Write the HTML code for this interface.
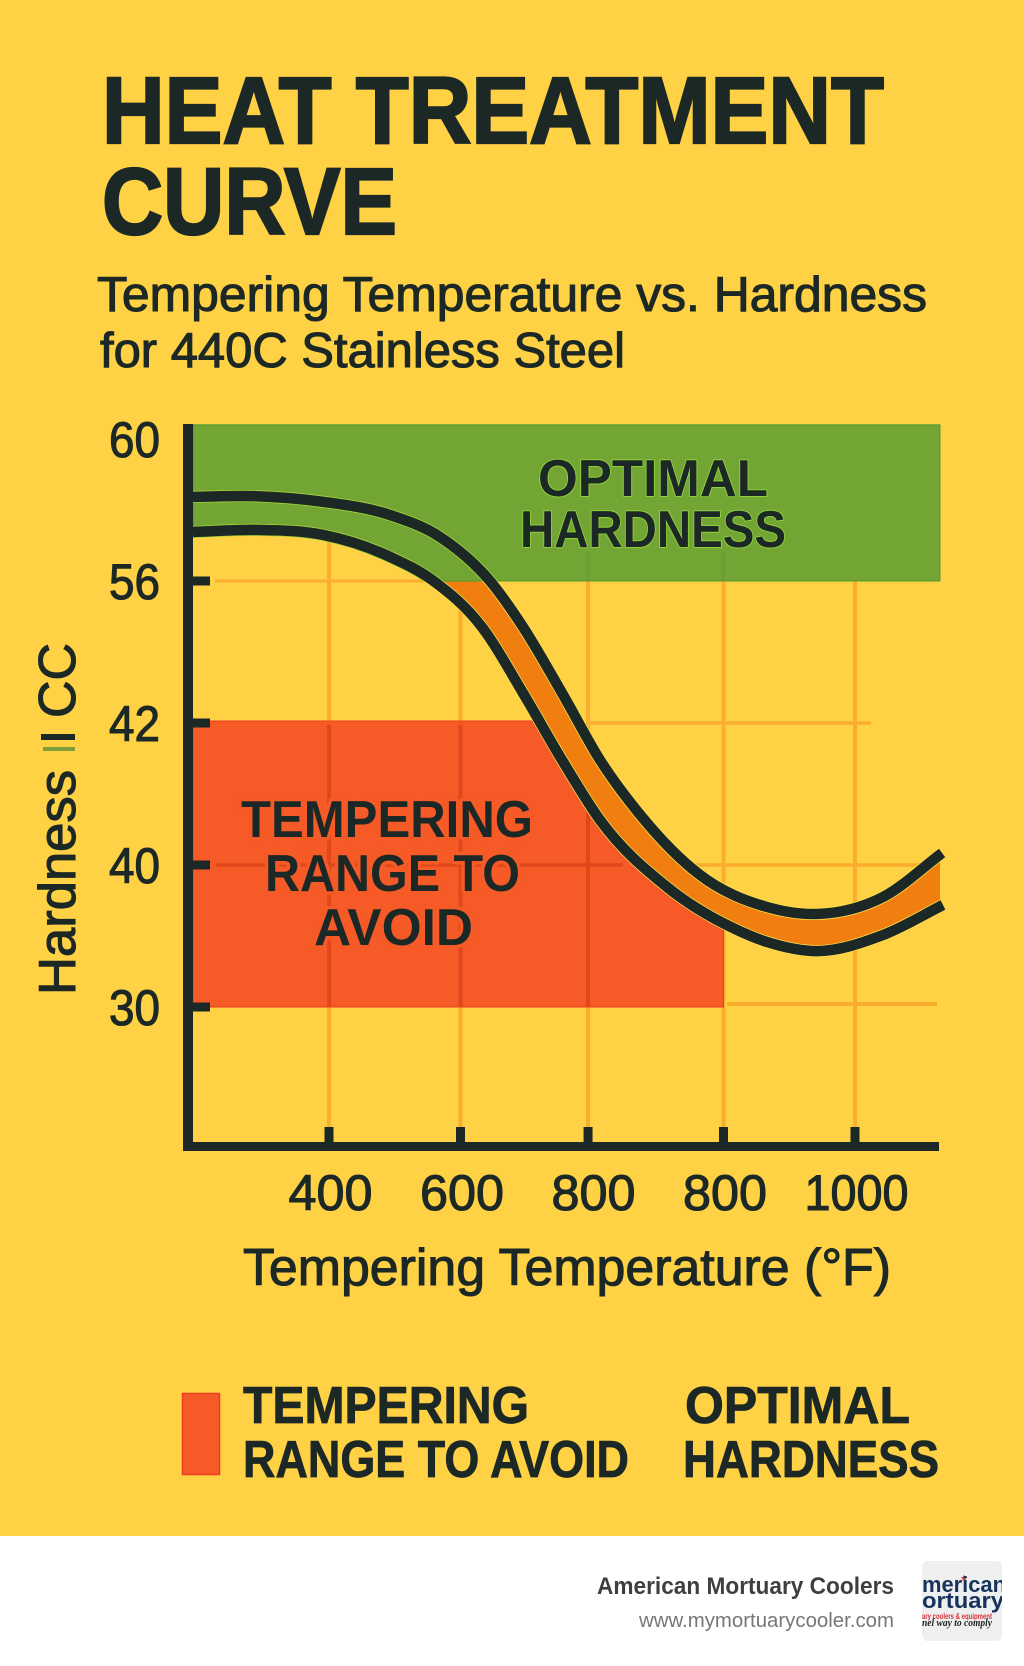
<!DOCTYPE html>
<html lang="en">
<head>
<meta charset="utf-8">
<title>Heat Treatment Curve</title>
<style>
html,body{margin:0;padding:0;background:#ffd145;}
svg{display:block;font-family:"Liberation Sans",sans-serif;}
.ink{fill:#1c2825;}
.title{font-weight:700;font-size:95px;stroke:#1c2825;stroke-width:2.2px;}
.sub{font-size:49px;stroke:#1c2825;stroke-width:1.1px;}
.tick{font-size:50px;stroke:#1c2825;stroke-width:1.1px;}
.axis-title{font-size:52px;stroke:#1c2825;stroke-width:1.1px;}
.band-label{font-weight:700;font-size:52px;paint-order:stroke;stroke-linejoin:round;}
.legend-text{font-weight:700;font-size:52px;stroke:#1c2825;stroke-width:.8px;}
</style>
</head>
<body>
<svg id="chart" xmlns="http://www.w3.org/2000/svg" width="1024" height="1666" viewBox="0 0 1024 1666">
  <rect x="0" y="0" width="1024" height="1536" fill="#ffd145"/>
  <rect x="0" y="1536" width="1024" height="130" fill="#ffffff"/>

  <text class="ink title" x="102" y="143" textLength="782" lengthAdjust="spacingAndGlyphs">HEAT TREATMENT</text>
  <text class="ink title" x="102" y="234" textLength="295" lengthAdjust="spacingAndGlyphs">CURVE</text>
  <text class="ink sub" x="97" y="311" textLength="830" lengthAdjust="spacingAndGlyphs">Tempering Temperature vs. Hardness</text>
  <text class="ink sub" x="100" y="367" textLength="525" lengthAdjust="spacingAndGlyphs">for 440C Stainless Steel</text>

  <defs>
    <clipPath id="above-lower"><path id="above-lower-path" d=""/></clipPath>
    <clipPath id="below-lower"><path id="below-lower-path" d=""/></clipPath>
    <clipPath id="band-clip"><rect x="193" y="400" width="747" height="700"/></clipPath>
    <clipPath id="logo-clip"><rect x="922" y="1561" width="80" height="80" rx="6"/></clipPath>
  </defs>

  <g id="grid-layer"></g>
  <g id="zone-layer"></g>
  <g id="curve-layer"></g>
  <g id="axis-layer"></g>

  <text class="ink band-label" x="538" y="496" textLength="230" lengthAdjust="spacingAndGlyphs" stroke="#8fcf3a" stroke-width="2">OPTIMAL</text>
  <text class="ink band-label" x="520" y="547" textLength="266" lengthAdjust="spacingAndGlyphs" stroke="#8fcf3a" stroke-width="2">HARDNESS</text>
  <text class="ink band-label" x="241" y="837" textLength="292" lengthAdjust="spacingAndGlyphs" stroke="#f55a27" stroke-width="7">TEMPERING</text>
  <text class="ink band-label" x="265" y="891" textLength="255" lengthAdjust="spacingAndGlyphs" stroke="#f55a27" stroke-width="7">RANGE TO</text>
  <text class="ink band-label" x="314" y="945" textLength="159" lengthAdjust="spacingAndGlyphs" stroke="#f55a27" stroke-width="7">AVOID</text>

  <text class="ink axis-title" transform="translate(75,995) rotate(-90)" x="0" y="0" textLength="225" lengthAdjust="spacingAndGlyphs">Hardness</text>
  <rect x="43" y="747" width="32" height="4" fill="#7f9f3a"/>
  <rect x="41" y="734" width="34" height="6" fill="#1c2825"/>
  <text class="ink axis-title" transform="translate(75,718) rotate(-90)" x="0" y="0" textLength="75" lengthAdjust="spacingAndGlyphs">CC</text>

  <text class="ink axis-title" x="243" y="1285" textLength="648" lengthAdjust="spacingAndGlyphs">Tempering Temperature (°F)</text>

  <rect x="182.5" y="1393.5" width="37" height="81" fill="#f55a27" stroke="#ef3d22" stroke-width="1.5"/>
  <text class="ink legend-text" x="243" y="1423" textLength="286" lengthAdjust="spacingAndGlyphs">TEMPERING</text>
  <text class="ink legend-text" x="243" y="1477" textLength="386" lengthAdjust="spacingAndGlyphs">RANGE TO AVOID</text>
  <text class="ink legend-text" x="685" y="1423" textLength="225" lengthAdjust="spacingAndGlyphs">OPTIMAL</text>
  <text class="ink legend-text" x="683" y="1477" textLength="256" lengthAdjust="spacingAndGlyphs">HARDNESS</text>

  <text x="894" y="1594" text-anchor="end" font-size="24" font-weight="700" fill="#3f3f3f" textLength="297" lengthAdjust="spacingAndGlyphs">American Mortuary Coolers</text>
  <text x="894" y="1627" text-anchor="end" font-size="20" fill="#777777" textLength="255" lengthAdjust="spacingAndGlyphs">www.mymortuarycooler.com</text>

  <g>
    <rect x="922" y="1561" width="80" height="80" rx="6" fill="#eef0f0"/>
    <g clip-path="url(#logo-clip)">
      <text x="964" y="1581" text-anchor="middle" font-size="9" fill="#d9303a">★</text>
      <text x="922" y="1592" font-size="22" font-weight="700" fill="#17325c" textLength="84" lengthAdjust="spacingAndGlyphs">merican</text>
      <text x="922" y="1608" font-size="22" font-weight="700" fill="#17325c" textLength="82" lengthAdjust="spacingAndGlyphs">ortuary</text>
      <text x="922" y="1619" font-size="8" font-weight="700" fill="#d9303a" textLength="70" lengthAdjust="spacingAndGlyphs">ary coolers &amp; equipment</text>
      <text x="922" y="1626" font-family="Liberation Serif, serif" font-style="italic" font-size="10" font-weight="700" fill="#222222" textLength="70" lengthAdjust="spacingAndGlyphs">nel way to comply</text>
    </g>
  </g>
</svg>

<script>
// ---- chart data ----
const xTickLabels = ["400", "600", "800", "800", "1000"];
const xTickSlots = [0, 1, 1.97, 3, 4];
const yTickValues = [60, 56, 42, 40, 30];

// Curve samples: x is measured in tick slots along the temperature axis, y in printed hardness.
const upperSlots = [-1.034, -0.548, -0.046, 0.464, 0.844, 1.224, 1.475, 1.772, 2.061, 2.38, 2.821, 3.331, 3.711, 4.213, 4.662];
const upperHardness = [58.37, 58.39, 58.23, 57.86, 57.24, 56, 51.46, 44.96, 41.479, 40.676, 39.3, 37.04, 36.55, 37.75, 40.169];
const lowerSlots = [-1.034, -0.548, -0.046, 0.464, 0.783, 1.163, 1.475, 1.772, 2.061, 2.57, 3.072, 3.331, 3.711, 4.213, 4.669];
const lowerHardness = [57.38, 57.44, 57.3, 56.68, 56.03, 51.46, 44.96, 41.479, 40.634, 38.45, 35.56, 34.58, 33.94, 35.07, 37.18];

const optimalHardness = [60.4, 56];
const optimalSlots = [-1.034, 4.646];
const avoidHardness = [42, 30];
const avoidSlots = [-1.034, 3];

// ---- axis functions ----
const X_ORIGIN = 329, X_STEP = 131.5;
const Y_ORIGIN = 439, Y_STEP = 142;
function xScale(slot) { return X_ORIGIN + X_STEP * slot; }
function yScale(v) {
  const t = yTickValues;
  let i = 0;
  while (i < t.length - 2 && v < t[i + 1]) i++;
  const frac = (t[i] - v) / (t[i] - t[i + 1]);
  return Y_ORIGIN + Y_STEP * (i + frac);
}

// ---- helpers ----
const NS = "http://www.w3.org/2000/svg";
function mk(parent, tag, attrs) {
  const el = document.createElementNS(NS, tag);
  for (const k in attrs) el.setAttribute(k, attrs[k]);
  parent.appendChild(el);
  return el;
}
function toPoints(slots, values) {
  return slots.map((s, i) => [xScale(s), yScale(values[i])]);
}
// Non-uniform cubic Hermite spline through the points, with parabolic tangents.
function smooth(pts) {
  const n = pts.length;
  const h = [], dl = [], m = [];
  for (let i = 0; i < n - 1; i++) {
    h[i] = pts[i + 1][0] - pts[i][0];
    dl[i] = (pts[i + 1][1] - pts[i][1]) / h[i];
  }
  m[0] = dl[0];
  m[n - 1] = dl[n - 2];
  for (let i = 1; i < n - 1; i++) {
    m[i] = (h[i] * dl[i - 1] + h[i - 1] * dl[i]) / (h[i - 1] + h[i]);
  }
  let d = "";
  for (let i = 0; i < n - 1; i++) {
    const c1x = pts[i][0] + h[i] / 3, c1y = pts[i][1] + m[i] * h[i] / 3;
    const c2x = pts[i + 1][0] - h[i] / 3, c2y = pts[i + 1][1] - m[i + 1] * h[i] / 3;
    d += "C" + c1x.toFixed(1) + " " + c1y.toFixed(1) + " " + c2x.toFixed(1) + " " + c2y.toFixed(1) + " " + pts[i + 1][0].toFixed(1) + " " + pts[i + 1][1].toFixed(1);
  }
  return d;
}
function moveTo(p) { return "M" + p[0].toFixed(1) + " " + p[1].toFixed(1); }
function lineTo(p) { return "L" + p[0].toFixed(1) + " " + p[1].toFixed(1); }

const gridLayer = document.getElementById("grid-layer");
const zoneLayer = document.getElementById("zone-layer");
const curveLayer = document.getElementById("curve-layer");
const axisLayer = document.getElementById("axis-layer");
const defs = document.querySelector("svg defs");

const upperPts = toPoints(upperSlots, upperHardness);
const lowerPts = toPoints(lowerSlots, lowerHardness);
const upperD = moveTo(upperPts[0]) + smooth(upperPts);
const lowerD = moveTo(lowerPts[0]) + smooth(lowerPts);
const lowerRev = lowerPts.slice().reverse();

document.getElementById("above-lower-path").setAttribute("d", lowerD + "L1024 " + lowerPts[lowerPts.length - 1][1] + "L1024 0L0 0L0 " + lowerPts[0][1] + "Z");
document.getElementById("below-lower-path").setAttribute("d", lowerD + "L1024 " + lowerPts[lowerPts.length - 1][1] + "L1024 1300L0 1300L0 " + lowerPts[0][1] + "Z");

// ---- grid lines ----
const GRID_BOTTOM = 1127;
function gridLines(parent, color, suffix) {
  xTickSlots.forEach(function (slot, i) {
    const line = mk(parent, "line", { x1: xScale(slot), x2: xScale(slot), y1: 500, y2: GRID_BOTTOM, stroke: color, "stroke-width": 4 });
    
    
  });
  const h56 = mk(parent, "line", { x1: 215, x2: 440, y1: yScale(56), y2: yScale(56), stroke: color, "stroke-width": 3 });
  
  
  const h42 = mk(parent, "line", { x1: 590, x2: 871, y1: yScale(42), y2: yScale(42), stroke: color, "stroke-width": 3.5 });
  
  
  const h40a = mk(parent, "line", { x1: 216, x2: 623, y1: yScale(40), y2: yScale(40), stroke: color, "stroke-width": 3.5 });
  
  
  const h40b = mk(parent, "line", { x1: 695, x2: 922, y1: yScale(40), y2: yScale(40), stroke: color, "stroke-width": 3.5 });
  
  
  const h30 = mk(parent, "line", { x1: 727, x2: 937, y1: yScale(30) - 3, y2: yScale(30) - 3, stroke: color, "stroke-width": 4 });
  
  
}
gridLines(gridLayer, "#fbae2e", "base");

// ---- zones ----
const avoidRect = mk(zoneLayer, "rect", {
  x: xScale(avoidSlots[0]), y: yScale(avoidHardness[0]) - 2,
  width: xScale(avoidSlots[1]) - xScale(avoidSlots[0]),
  height: yScale(avoidHardness[1]) - yScale(avoidHardness[0]) + 2,
  fill: "#f55a27", stroke: "#ef3d22", "stroke-width": 1, "clip-path": "url(#below-lower)"
});



const redClip = mk(defs, "clipPath", { id: "red-grid-clip" });
mk(redClip, "rect", {
  x: xScale(avoidSlots[0]), y: yScale(avoidHardness[0]) + 2,
  width: xScale(avoidSlots[1]) - xScale(avoidSlots[0]) - 2,
  height: yScale(avoidHardness[1]) - yScale(avoidHardness[0]) - 2
});
const redGridOuter = mk(zoneLayer, "g", { "clip-path": "url(#below-lower)" });


const redGrid = mk(redGridOuter, "g", { "clip-path": "url(#red-grid-clip)" });


gridLines(redGrid, "#e0481b", "avoid");

const bandPath = mk(zoneLayer, "path", {
  d: upperD + lineTo(lowerRev[0]) + smooth(lowerRev) + "Z",
  fill: "#f17f10", "clip-path": "url(#band-clip)"
});



const optimalRect = mk(zoneLayer, "rect", {
  x: xScale(optimalSlots[0]), y: yScale(optimalHardness[0]),
  width: xScale(optimalSlots[1]) - xScale(optimalSlots[0]),
  height: yScale(optimalHardness[1]) - yScale(optimalHardness[0]),
  fill: "#72a533", stroke: "#4f9a2e", "stroke-width": 1, "clip-path": "url(#above-lower)"
});



[2, 3].forEach(function (i) {
  const faint = mk(zoneLayer, "line", { x1: xScale(xTickSlots[i]), x2: xScale(xTickSlots[i]), y1: 552, y2: yScale(56), stroke: "#6c9d33", "stroke-width": 4 });
  
  
});

// ---- curves ----
const optClip = mk(defs, "clipPath", { id: "optimal-clip" });
mk(optClip, "rect", { x: 193, y: 425, width: 750, height: yScale(56) - 425 });
[[upperD, "upper"], [lowerD, "lower"]].forEach(function (c) {
  const halo = mk(curveLayer, "path", { d: c[0], fill: "none", stroke: "#ffe14d", "stroke-width": 12 });
  
  
  const glow = mk(curveLayer, "path", { d: c[0], fill: "none", stroke: "#9bd038", "stroke-width": 12, "clip-path": "url(#optimal-clip)" });
  
  
  const line = mk(curveLayer, "path", { d: c[0], fill: "none", stroke: "#1c2825", "stroke-width": 10.5 });
  
  
});

// ---- axes ----
const yAxisLine = mk(axisLayer, "rect", { x: 183, y: 424, width: 10, height: 727, fill: "#1c2825" });


const xAxisLine = mk(axisLayer, "rect", { x: 183, y: 1142, width: 756, height: 9, fill: "#1c2825" });



xTickSlots.forEach(function (slot, i) {
  const mark = mk(axisLayer, "rect", { x: xScale(slot) - 4.5, y: 1127, width: 9, height: 16, fill: "#1c2825" });
  
  
  const label = mk(axisLayer, "text", { x: xScale(i) + 1.5, y: 1210, "text-anchor": "middle", class: "ink tick", textLength: xTickLabels[i].length > 3 ? 104 : 84, lengthAdjust: "spacingAndGlyphs" });
  
  
  label.textContent = xTickLabels[i];
});

yTickValues.forEach(function (v, i) {
  if (i > 0) {
    const mark = mk(axisLayer, "rect", { x: 193, y: yScale(v) - 4.5, width: 17, height: 9, fill: "#1c2825" });
    
    
  }
  const label = mk(axisLayer, "text", { x: 160, y: yScale(v) + 18, "text-anchor": "end", class: "ink tick", textLength: 51, lengthAdjust: "spacingAndGlyphs" });
  
  
  label.textContent = String(v);
});
</script>
</body>
</html>
